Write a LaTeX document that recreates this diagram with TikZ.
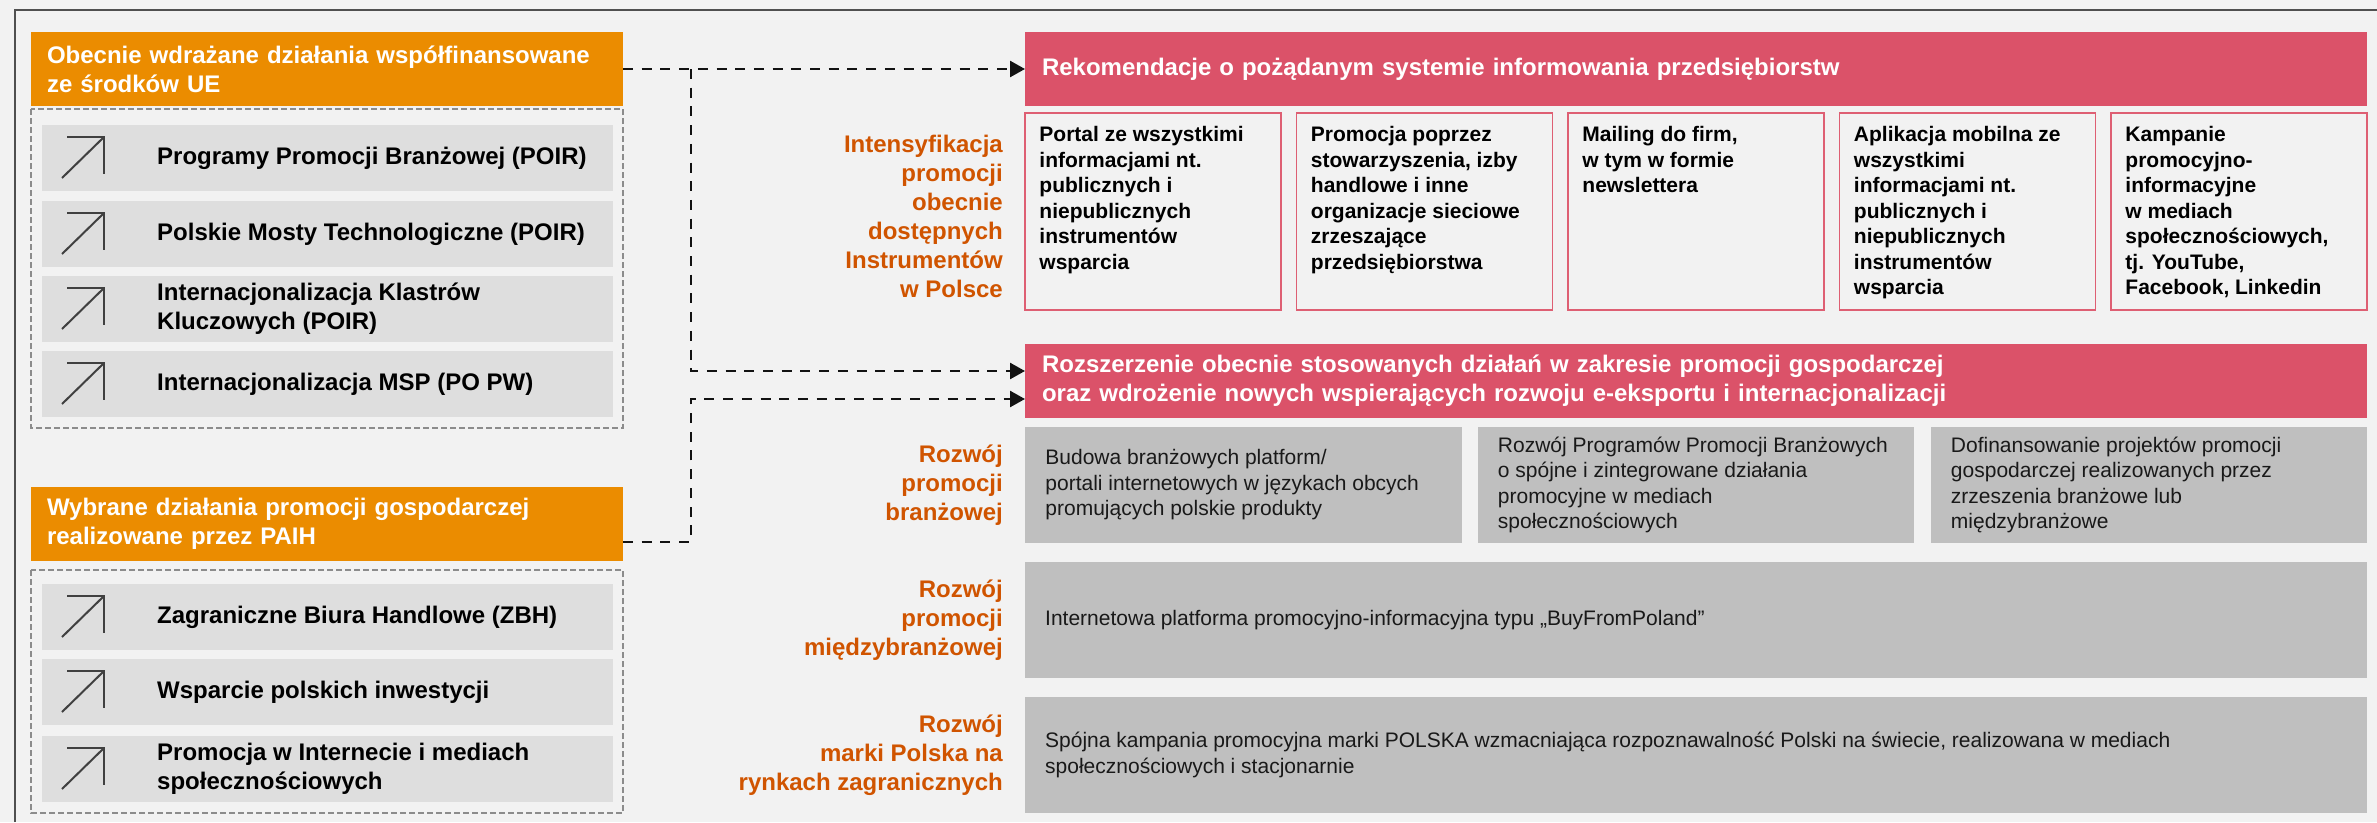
\documentclass[tikz,border=0pt]{standalone}
\usepackage{fontspec}
\setmainfont{Liberation Sans}
\usetikzlibrary{arrows.meta}
\definecolor{PaperGray}{HTML}{F2F2F2}
\definecolor{FrameGray}{HTML}{505050}
\definecolor{EuOrange}{RGB}{235,140,0}
\definecolor{RecPink}{RGB}{219,82,105}
\definecolor{RecLine}{RGB}{222,95,115}
\definecolor{RowGray}{HTML}{BFBFBF}
\definecolor{ItemGray}{HTML}{DEDEDE}
\definecolor{LabelOrange}{RGB}{208,84,0}
\definecolor{IconGray}{HTML}{404040}
\definecolor{GrpLine}{HTML}{8C8C8C}
\newcommand\bigbf{\fontsize{24}{29}\selectfont\bfseries}
\newcommand\smallbf{\fontsize{21}{25.5}\selectfont\bfseries}
\newcommand\smallrm{\fontsize{21}{25.5}\selectfont}

\begin{document}
\begin{tikzpicture}[x=1pt,y=-1pt,
  box/.style n args={3}{rectangle,fill=#1,minimum width=#2,minimum height=#3,inner sep=0pt,outer sep=0pt},
  head/.style={text=white,font=\bigbf,align=left},
  item/.style={box={ItemGray}{571}{66}},
  itemtxt/.style={anchor=west,align=left,font=\bigbf,inner sep=0pt,text=black},
  icon/.style={draw=IconGray,line width=2pt},
  grp/.style={draw=GrpLine,line width=1.5pt,dash pattern=on 6pt off 3pt},
  lbl/.style={text=LabelOrange,font=\bigbf,align=right,inner sep=0pt,anchor=east},
  card/.style={rectangle,draw=RecLine,line width=1.5pt,minimum width=256,minimum height=197,inner sep=0pt},
  cardtxt/.style={anchor=north west,align=left,font=\smallbf,inner sep=0pt,text=black},
  rowtxt/.style={anchor=west,align=left,font=\smallrm,inner sep=0pt,text=black!90},
  link/.style={draw=black!93,line width=2.5pt,dash pattern=on 10pt off 8.7pt,-{Triangle[length=15pt,width=16pt]}}]
\fill[PaperGray] (0,0) rectangle (2377,822);
\useasboundingbox (0,0) rectangle (2377,822);
\draw[FrameGray,line width=2pt] (15,822) |- (2377,10);

\node[box={EuOrange}{592}{74},head,text width=560] (eu) at (327,69)
   {Obecnie wdrażane działania współfinansowane\\ze środków UE};
\node[box={EuOrange}{592}{74},head,text width=560] (paih) at (327,524)
   {Wybrane działania promocji gospodarczej\\realizowane przez PAIH};
\draw[grp] (31,109) rectangle (623,428);
\draw[grp] (31,570) rectangle (623,813);
\foreach \y/\1 [count=\i] in %
{158/{Programy Promocji Branżowej (POIR)},234/{Polskie Mosty Technologiczne (POIR)},
 309/{Internacjonalizacja Klastrów\\Kluczowych (POIR)},384/{Internacjonalizacja MSP (PO PW)},
 617/{Zagraniczne Biura Handlowe (ZBH)},692/{Wsparcie polskich inwestycji},
 769/{Promocja w Internecie i mediach\\społecznościowych}} {
   \node[item] (it\i) at (327.5,\y) {};
   \draw[icon] (62,\y+20) -- (104,\y-21);
   \draw[icon] (67,\y-21) -- (104,\y-21) -- (104,\y+16);
   \node[itemtxt] (tx\i) at (157,\y) {\1};
}

\node[box={RecPink}{1342}{74},head,text width=1308] (rec) at (1696,69)
   {Rekomendacje o pożądanym systemie informowania przedsiębiorstw};
\foreach \x/\1 [count=\i] in %
{1153/{Portal ze wszystkimi\\informacjami nt.\\publicznych i\\niepublicznych\\instrumentów\\wsparcia},
 1424.5/{Promocja poprzez\\stowarzyszenia, izby\\handlowe i inne\\organizacje sieciowe\\zrzeszające\\przedsiębiorstwa},
 1696/{Mailing do firm,\\w tym w formie\\newslettera},
 1967.5/{Aplikacja mobilna ze\\wszystkimi\\informacjami nt.\\publicznych i\\niepublicznych\\instrumentów\\wsparcia},
 2239/{Kampanie\\promocyjno-\\informacyjne\\w mediach\\społecznościowych,\\tj. YouTube,\\Facebook, Linkedin}} {
   \node[card] (c\i) at (\x,211.5) {};
   \node[cardtxt] (ct\i) at ([xshift=15pt,yshift=-14pt]c\i.north west) {\1};
}
\node[lbl] (l1) at (1003,216) {Intensyfikacja\\promocji\\obecnie\\dostępnych\\Instrumentów\\w Polsce};

\node[box={RecPink}{1342}{74},head,text width=1308] (ext) at (1696,381)
   {Rozszerzenie obecnie stosowanych działań w zakresie promocji gospodarczej\\oraz wdrożenie nowych wspierających rozwoju e-eksportu i internacjonalizacji};
\foreach \x/\1 [count=\i] in %
{1243.5/{Budowa branżowych platform/\\portali internetowych w językach obcych\\promujących polskie produkty},
 1696/{Rozwój Programów Promocji Branżowych\\o spójne i zintegrowane działania\\promocyjne w mediach\\społecznościowych},
 2149/{Dofinansowanie projektów promocji\\gospodarczej realizowanych przez\\zrzeszenia branżowe lub\\międzybranżowe}} {
   \node[box={RowGray}{436.5}{116}] (g\i) at (\x,485) {};
   \node[rowtxt] (gt\i) at ([xshift=20pt]g\i.west) {\1};
}
\node[lbl] (l2) at (1003,485) {Rozwój\\promocji\\branżowej};

\node[box={RowGray}{1342}{116}] (bfp) at (1696,620) {};
\node[rowtxt] (bfpt) at ([xshift=20pt]bfp.west) {Internetowa platforma promocyjno-informacyjna typu „BuyFromPoland”};
\node[lbl] (l3) at (1003,620) {Rozwój\\promocji\\międzybranżowej};

\node[box={RowGray}{1342}{116}] (spk) at (1696,755) {};
\node[rowtxt] (spkt) at ([xshift=20pt]spk.west) {Spójna kampania promocyjna marki POLSKA wzmacniająca rozpoznawalność Polski na świecie, realizowana w mediach\\społecznościowych i stacjonarnie};
\node[lbl] (l4) at (1003,755) {Rozwój\\marki Polska na\\rynkach zagranicznych};

\coordinate (split) at (691,69);
\draw[link] (eu.east) -- (rec.west);
\draw[link] (split) |- ([yshift=10pt]ext.west);
\draw[link] ([yshift=-18pt]paih.east) -| ([yshift=-18pt]ext.west -| split) -- ([yshift=-18pt]ext.west);
\end{tikzpicture}
\end{document}
